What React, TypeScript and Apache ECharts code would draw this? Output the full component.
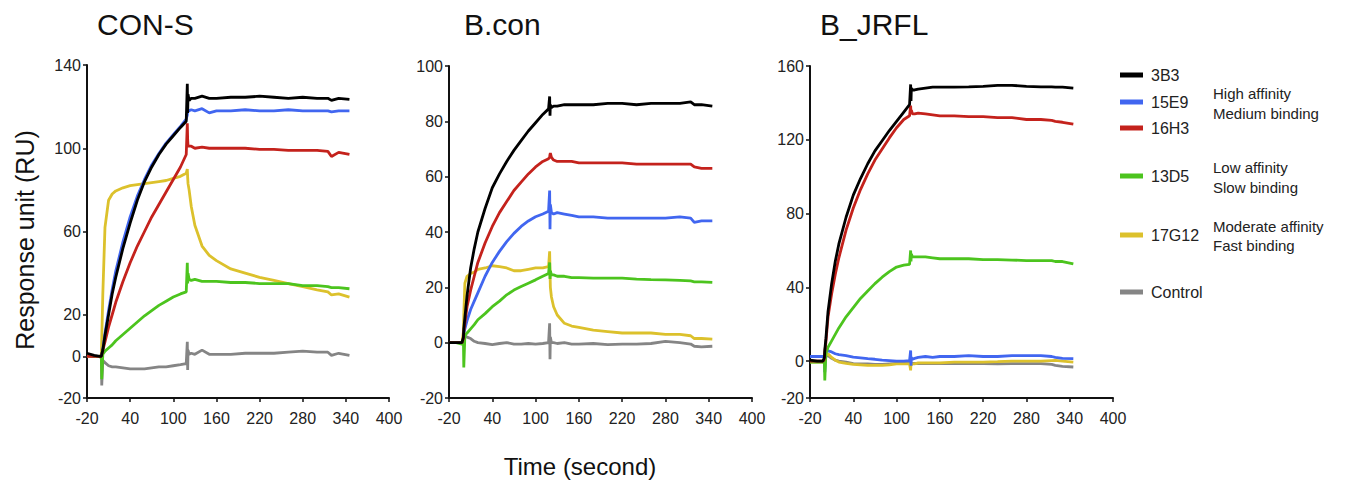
import React, { useEffect, useRef } from "react";
import * as echarts from "echarts";

// Time points (seconds) shared by every sensorgram trace
const T = [-20, -10, -2, 0, 0.5, 2, 5, 10, 15, 20, 30, 40, 50, 60, 70, 80, 90, 100, 110, 118, 119.5, 120, 120.5, 122, 125, 130, 140, 150, 160, 180, 200, 220, 240, 260, 280, 300, 315, 320, 330, 345];

const PANELS = ["CON-S", "B.con", "B_JRFL"];
const ANTIBODIES = ["3B3", "15E9", "16H3", "13D5", "17G12", "Control"];

// CON-S
const CONS_3B3 = [1.5, 0.5, 0, 0, 1, 3, 10, 20, 30, 38, 52, 64, 75, 84, 91, 97, 102, 106, 110, 113, 131, 117, 126, 123, 124, 124, 125, 124, 124, 124.5, 124.5, 125, 124.5, 124, 124.5, 124, 124, 123, 124, 123.5];
const CONS_15E9 = [0.5, 0, 0, 0, 1, 3.5, 11, 22, 32, 41, 55, 67, 77, 85, 92, 97.5, 102.5, 106.5, 110.5, 114, 116, 119, 118, 118, 118.5, 118, 119, 117, 118, 118, 118.5, 118, 118, 118.5, 118, 118, 118, 117.5, 118, 118];
const CONS_16H3 = [0, 0, 0, 0, 1, 3, 7, 14, 20, 26, 36, 45, 53, 60, 67, 73, 79, 85, 91, 97, 112, 104, 101, 101, 101, 100, 100.5, 100, 100, 100, 100, 99.5, 99.5, 99, 99, 99, 98.5, 96, 98, 97];
const CONS_13D5 = [0.5, 0, 0, -1, -11, 1, 2.5, 4, 5.5, 7.5, 10.5, 13.5, 16.5, 19.5, 22, 24.5, 26.5, 28.5, 30, 31, 45, 35, 40, 37, 36.5, 37, 36, 36, 36, 35.5, 35.5, 35, 35, 35, 34, 34, 33.5, 33, 33, 32.5];
const CONS_17G12 = [0, 0, 0, 1, 8, 30, 62, 75, 78, 79.5, 81, 82, 82.5, 83, 83.5, 84, 84.5, 85.5, 86.5, 88, 90, 86, 83, 80, 72, 63, 53, 48.5, 46, 42, 40, 38, 36.5, 35, 33.5, 32, 31, 29.5, 30, 28.5];
const CONS_CTRL = [0.5, 0, 0, 0, -14, -2, -3, -4.5, -5, -5, -5.5, -6, -6, -6, -5.5, -5, -5, -4.5, -4, -3.5, 7, -6.5, 3, 1, 1.5, 1, 3, 1, 1, 1, 1.5, 1.5, 1.5, 2, 2.5, 2, 2, 0.5, 1.5, 0.5];

// B.con
const BCON_3B3 = [0, 0, 0, 2, 5, 9, 17, 27, 34, 40, 48.5, 56, 61, 65.5, 69.5, 73, 76.5, 79.5, 82.5, 84.5, 89, 82, 86, 85, 85.5, 85.5, 86, 86, 86, 86, 86.5, 86.5, 86, 86.5, 86.5, 86.5, 87, 86, 86, 85.5];
const BCON_15E9 = [0, 0, 0, 1, 3, 5, 8, 12, 15, 18, 24, 29, 33, 36.5, 39.5, 42, 44, 45.5, 46.5, 47.5, 55, 41, 50, 47, 46.5, 47, 46.5, 46, 45.5, 45.5, 45, 45, 45, 45, 45, 45.5, 45, 43.5, 44, 44];
const BCON_16H3 = [0, 0, 0, 1.5, 4, 7, 13, 19, 24, 29, 36, 42, 47, 51, 55, 58, 61, 63.5, 65.5, 66.5, 67, 68, 68.5, 67, 66, 65.5, 65.5, 65.5, 65, 65, 65, 65, 64.5, 64.5, 64.5, 64.5, 64.5, 63.5, 63, 63];
const BCON_13D5 = [0, 0, -0.5, 0.5, -9, 2.5, 3.5, 5, 6.5, 8.3, 10.5, 13, 15, 17.3, 19, 20.3, 21.5, 22.7, 24, 25, 29, 23, 26, 24.5, 24.5, 24, 24, 23.5, 23.5, 23.3, 23.3, 23.3, 23, 22.8, 22.7, 22.5, 22.3, 22, 22, 21.8];
const BCON_17G12 = [0, 0, 0, 4, 10, 21.5, 24, 25, 25.5, 26.5, 27, 27.8, 27.5, 27, 26, 26, 26.5, 27, 27, 27.5, 33, 26, 20, 16.5, 13, 10, 7, 6, 5.5, 4.5, 4, 3.5, 3.5, 3.5, 3, 3, 2.5, 1.5, 1.5, 1.3];
const BCON_CTRL = [0, 0, 0, 0, 1, 2.5, 2, 1.5, 0.5, 0, -0.3, -0.7, -0.3, 0, -0.5, -0.5, -0.3, -0.5, -0.3, 0, 7, -6, 2, 0, 0, -0.3, 0, -0.5, -0.5, -0.3, -0.7, -0.5, -0.5, -0.3, 0.5, 0, -0.5, -1.3, -1.5, -1.3];

// B_JRFL
const JRFL_3B3 = [0.5, 0, 0, 2, 6, 12, 27, 42, 54, 63.5, 78, 90, 99, 107, 114, 119.5, 125, 130, 135, 139, 150, 141, 148, 147, 147, 147.5, 148, 148.5, 148.5, 148.5, 148.7, 149, 149.5, 149.5, 149, 148.7, 148.7, 148.5, 148.5, 148];
const JRFL_15E9 = [2.5, 2.5, 2.5, 2.5, -6, 6.5, 5.5, 5, 4, 3.5, 3, 2.2, 1.8, 1.3, 1, 0.5, 0.3, 0, 0, 0.3, 5.8, -2.5, 2, 1, 1.5, 2, 2.5, 2, 2.5, 2.5, 3, 2.5, 2.5, 3, 3, 3, 2.5, 2, 1.5, 1.3];
const JRFL_16H3 = [0, 0, 0, 1, 5, 10, 24, 36.5, 47, 56, 71, 83, 93, 101.5, 109, 115, 121, 126.5, 131, 133, 138.5, 134, 136, 134, 134, 134.5, 134, 133.5, 133, 133, 132.5, 132.5, 132, 132, 131, 131, 130.5, 130, 129.5, 128.5];
const JRFL_13D5 = [-0.5, -0.5, -0.5, -1, -10.5, 4, 7.5, 11, 14.5, 18, 24, 29, 34, 38, 42, 45.5, 48.5, 51, 52, 52.5, 60, 54, 58, 56.5, 56.5, 56.5, 56.5, 56, 55.5, 55.5, 55.5, 55, 55, 54.8, 54.5, 54.5, 54.5, 54, 54, 52.7];
const JRFL_17G12 = [-0.5, -0.5, -0.5, -0.5, 0, 3, 4, 2, 0.5, -0.5, -1.2, -1.8, -2, -2.3, -2.3, -2.3, -2, -1.5, -1.5, -1.5, -5, -1, -2, -1.5, -1.5, -1, -1, -1, -1, -0.5, -0.5, -0.5, -0.3, 0, 0, 0, 0.3, 0.4, 0, -0.5];
const JRFL_CTRL = [0, 0, 0, 0, 1, 2.5, 3, 1.5, 0.5, 0, -0.5, -1.4, -1.5, -1.5, -1.8, -1.8, -1.5, -1.2, -1, -1, -1, -1.5, -1, -1.2, -1.2, -1.3, -1.4, -1.4, -1.4, -1.4, -1.4, -1.4, -1.5, -1.4, -1.4, -1.4, -1.8, -2.3, -2.8, -3.2];

// Axis ticks
const X_TICKS = [-20, 40, 100, 160, 220, 280, 340, 400];
const Y_TICKS_CONS = [-20, 0, 20, 60, 100, 140];
const Y_TICKS_BCON = [-20, 0, 20, 40, 60, 80, 100];
const Y_TICKS_JRFL = [-20, 0, 40, 80, 120, 160];

// Legend annotations
const GROUP_NOTES = [
  ["High affinity", "Medium binding"],
  ["Low affinity", "Slow binding"],
  ["Moderate affinity", "Fast binding"],
];

const COLORS: Record<string, string> = {
  "3B3": "#000000",
  "15E9": "#4166f0",
  "16H3": "#c4221c",
  "13D5": "#4cc41e",
  "17G12": "#dcc12c",
  Control: "#858585",
};

const PANEL_DATA: Record<string, number[]>[] = [
  { "3B3": CONS_3B3, "15E9": CONS_15E9, "16H3": CONS_16H3, "13D5": CONS_13D5, "17G12": CONS_17G12, Control: CONS_CTRL },
  { "3B3": BCON_3B3, "15E9": BCON_15E9, "16H3": BCON_16H3, "13D5": BCON_13D5, "17G12": BCON_17G12, Control: BCON_CTRL },
  { "3B3": JRFL_3B3, "15E9": JRFL_15E9, "16H3": JRFL_16H3, "13D5": JRFL_13D5, "17G12": JRFL_17G12, Control: JRFL_CTRL },
];
const Y_TICKS = [Y_TICKS_CONS, Y_TICKS_BCON, Y_TICKS_JRFL];

const FONT = "'Liberation Sans', Arial, Helvetica, sans-serif";

export default function App() {
  const ref = useRef<HTMLDivElement>(null);
  useEffect(() => {
    if (!ref.current) return;
    const chart = echarts.init(ref.current, undefined, { renderer: "svg" });

    const grids = [
      { left: 87, top: 65, width: 302, height: 333 },
      { left: 449, top: 66, width: 303, height: 332 },
      { left: 810, top: 66, width: 303, height: 332 },
    ];
    const titleLefts = [97, 464, 820];
    const drawOrder = ["Control", "17G12", "15E9", "13D5", "16H3", "3B3"];

    const xAxes = grids.map((_, i) => ({
      type: "value",
      gridIndex: i,
      min: -20,
      max: 400,
      interval: 60,
      axisLine: { show: true, onZero: false, lineStyle: { color: "#111", width: 2 } },
      axisTick: { show: true, length: 4, customValues: X_TICKS, lineStyle: { color: "#111", width: 1.5 } },
      axisLabel: { fontSize: 16, color: "#222", margin: 12, fontFamily: FONT, customValues: X_TICKS },
      splitLine: { show: false },
    }));
    const yAxes = grids.map((_, i) => {
      const ticks = Y_TICKS[i];
      return {
        type: "value",
        gridIndex: i,
        min: ticks[0],
        max: ticks[ticks.length - 1],
        interval: 20,
        axisLine: { show: true, onZero: false, lineStyle: { color: "#111", width: 2 } },
        axisTick: { show: true, length: 4, customValues: ticks, lineStyle: { color: "#111", width: 1.5 } },
        axisLabel: { fontSize: 16, color: "#222", margin: 6, fontFamily: FONT, customValues: ticks },
        splitLine: { show: false },
      };
    });

    const series: any[] = [];
    PANEL_DATA.forEach((panel, i) => {
      drawOrder.forEach((name, k) => {
        const vals = panel[name];
        series.push({
          name,
          type: "line",
          xAxisIndex: i,
          yAxisIndex: i,
          data: T.map((t, j) => [t, vals[j]]),
          showSymbol: false,
          symbol: "none",
          silent: true,
          z: 2 + k,
          lineStyle: { width: 2.8, color: COLORS[name] },
          itemStyle: { color: COLORS[name] },
        });
      });
    });

    const legendY = [76, 103, 129, 177, 236, 293];
    const legends = ANTIBODIES.map((name, i) => ({
      data: [name],
      left: 1120,
      top: legendY[i] - 9,
      padding: 0,
      itemWidth: 23,
      itemHeight: 5,
      itemGap: 0,
      icon: "rect",
      selectedMode: false,
      textStyle: { fontSize: 16, color: "#222", fontFamily: FONT, padding: [0, 0, 0, 3] },
    }));

    const noteY = [[93, 113], [167, 187], [226, 245]];
    const graphics: any[] = [];
    GROUP_NOTES.forEach((pair, g) => {
      pair.forEach((txt, r) => {
        graphics.push({
          type: "text",
          x: 1213,
          y: noteY[g][r],
          style: { text: txt, fontSize: 15, fill: "#222", fontFamily: FONT, textVerticalAlign: "middle" },
        });
      });
    });
    graphics.push({
      type: "text",
      x: 25,
      y: 240,
      rotation: Math.PI / 2,
      style: { text: "Response unit (RU)", fontSize: 25, fill: "#111", fontFamily: FONT, textAlign: "center", textVerticalAlign: "middle" },
    });
    graphics.push({
      type: "text",
      x: 580,
      y: 466,
      style: { text: "Time (second)", fontSize: 24, fill: "#111", fontFamily: FONT, textAlign: "center", textVerticalAlign: "middle" },
    });

    chart.setOption({
      animation: false,
      backgroundColor: "#ffffff",
      textStyle: { fontFamily: FONT },
      title: PANELS.map((p, i) => ({
        text: p,
        left: titleLefts[i],
        top: 9,
        padding: 0,
        textStyle: { fontSize: 30, fontWeight: "normal", color: "#111", fontFamily: FONT },
      })),
      grid: grids,
      xAxis: xAxes,
      yAxis: yAxes,
      legend: legends,
      series,
      graphic: graphics,
    });
    return () => chart.dispose();
  }, []);

  return (
    <div
      ref={ref}
      style={{ position: "fixed", left: 0, top: 0, width: 1348, height: 481, background: "#fff" }}
    />
  );
}
